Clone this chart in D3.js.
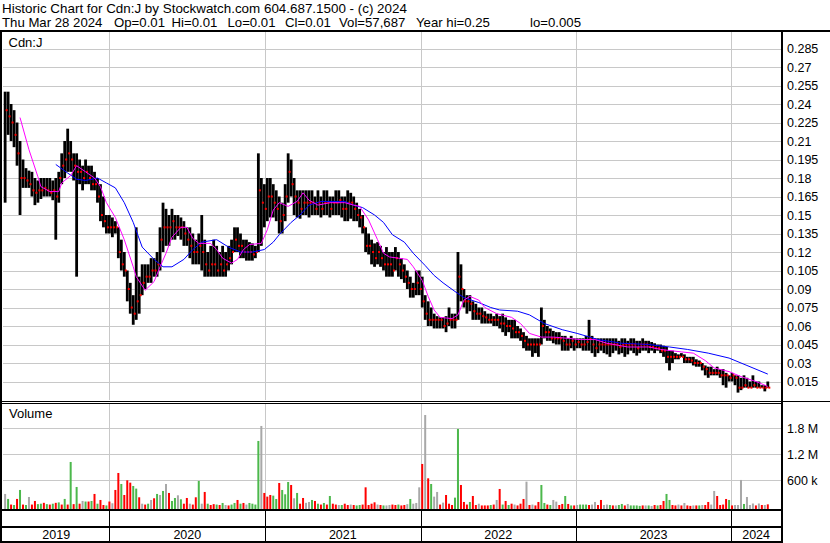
<!DOCTYPE html>
<html><head><meta charset="utf-8">
<script src="https://cdn.jsdelivr.net/npm/d3@7"></script>
<style>
html,body{margin:0;padding:0;background:#fff;}
svg{display:block;font-family:Arial,"Liberation Sans",sans-serif;}
</style></head><body>
<svg id="c" width="830" height="543"></svg>
<script>
// ---------------- DATA (weekly) ----------------
const firstWeekMonday = "2019-04-29";
const weekHigh = [
.25,.25,.24,.235,.225,.21,.195,.188,.186,.185,
.18,.178,.18,.18,.18,.18,.178,.18,.185,.2,
.21,.22,.21,.2,.2,.195,.19,.195,.19,.19,
.185,.18,.175,.165,.15,.15,.148,.145,.14,.13,
.12,.105,.095,.085,.14,.1,.11,.11,.11,.115,
.115,.12,.14,.16,.155,.15,.155,.15,.15,.148,
.145,.14,.14,.135,.13,.135,.15,.13,.12,.125,
.13,.125,.12,.125,.12,.125,.13,.14,.14,.135,
.13,.13,.128,.127,.125,.2,.18,.175,.18,.18,
.175,.17,.165,.16,.175,.2,.195,.18,.17,.17,
.17,.17,.17,.17,.165,.17,.165,.17,.17,.165,
.165,.17,.17,.165,.165,.17,.168,.165,.16,.155,
.15,.14,.135,.13,.127,.128,.125,.12,.124,.12,
.12,.124,.12,.115,.11,.105,.1,.095,.105,.105,
.1,.085,.08,.075,.07,.068,.067,.067,.068,.075,
.07,.07,.12,.11,.09,.085,.085,.08,.078,.075,
.075,.072,.07,.07,.068,.07,.068,.07,.067,.065,
.065,.065,.06,.058,.055,.052,.05,.05,.05,.05,
.075,.065,.06,.058,.056,.055,.055,.052,.052,.05,
.052,.05,.05,.05,.05,.052,.065,.052,.05,.05,
.05,.05,.05,.05,.05,.05,.048,.05,.05,.048,
.05,.05,.048,.048,.05,.048,.048,.047,.046,.045,
.045,.044,.043,.04,.04,.038,.037,.038,.037,.035,
.035,.035,.033,.032,.03,.028,.027,.027,.025,.027,
.025,.025,.022,.02,.022,.02,.02,.018,.02,.018,
.015,.02,.015,.015,.012,.012,.015];
const weekLow = [
.16,.215,.21,.205,.19,.15,.172,.172,.172,.165,
.158,.16,.163,.165,.165,.165,.162,.13,.16,.175,
.18,.185,.185,.178,.1,.175,.17,.175,.175,.17,
.17,.16,.145,.14,.135,.135,.132,.135,.115,.105,
.1,.08,.07,.061,.065,.07,.085,.09,.095,.095,
.1,.1,.105,.12,.125,.125,.13,.13,.133,.13,
.125,.125,.115,.11,.11,.11,.105,.1,.1,.1,
.1,.1,.1,.1,.1,.105,.11,.12,.12,.115,
.115,.113,.113,.113,.115,.12,.125,.14,.145,.148,
.148,.145,.135,.135,.145,.16,.165,.15,.148,.147,
.15,.15,.148,.15,.15,.15,.148,.15,.15,.148,
.15,.15,.15,.148,.145,.145,.147,.145,.145,.14,
.135,.12,.118,.11,.108,.11,.108,.105,.1,.1,
.1,.105,.1,.098,.095,.09,.083,.083,.085,.085,
.075,.065,.06,.06,.058,.058,.058,.058,.055,.06,
.058,.058,.065,.08,.075,.07,.072,.065,.065,.065,
.062,.062,.062,.062,.06,.06,.058,.055,.052,.055,
.05,.05,.05,.048,.042,.04,.04,.035,.038,.035,
.045,.05,.048,.048,.046,.045,.045,.04,.04,.04,
.042,.04,.042,.042,.04,.04,.04,.038,.035,.038,
.04,.038,.037,.035,.038,.04,.037,.038,.035,.037,
.04,.038,.036,.038,.04,.04,.038,.04,.038,.04,
.038,.035,.03,.024,.03,.033,.033,.035,.03,.03,
.03,.028,.027,.027,.024,.02,.018,.02,.02,.02,
.018,.012,.01,.015,.015,.012,.006,.008,.01,.01,
.01,.01,.01,.01,.01,.007,.01];
const weekClose = [
.235,.23,.225,.215,.2,.18,.18,.178,.175,.17,
.168,.17,.17,.172,.17,.168,.17,.165,.18,.19,
.195,.2,.195,.19,.185,.185,.18,.185,.18,.175,
.175,.165,.15,.145,.14,.14,.14,.14,.12,.11,
.105,.09,.075,.07,.08,.085,.095,.1,.1,.105,
.105,.11,.13,.14,.14,.14,.145,.14,.14,.14,
.135,.13,.125,.12,.12,.125,.12,.11,.105,.11,
.11,.105,.11,.105,.11,.115,.12,.13,.125,.125,
.12,.12,.12,.118,.12,.17,.16,.155,.165,.165,
.16,.155,.145,.15,.165,.185,.175,.165,.16,.155,
.16,.16,.16,.16,.155,.16,.155,.16,.16,.155,
.16,.16,.162,.155,.155,.16,.16,.155,.15,.148,
.14,.125,.125,.12,.115,.12,.115,.11,.11,.11,
.105,.115,.11,.105,.1,.095,.09,.09,.095,.09,
.08,.07,.065,.065,.065,.065,.065,.06,.062,.065,
.065,.065,.1,.09,.08,.08,.078,.072,.07,.07,
.068,.067,.065,.065,.065,.065,.062,.062,.06,.06,
.058,.055,.055,.052,.048,.045,.045,.045,.045,.045,
.06,.055,.055,.05,.05,.05,.05,.048,.045,.045,
.048,.045,.047,.045,.045,.047,.05,.045,.042,.045,
.045,.045,.045,.045,.045,.045,.043,.045,.045,.045,
.045,.045,.042,.045,.045,.045,.043,.043,.042,.042,
.04,.04,.035,.035,.035,.035,.035,.035,.033,.033,
.032,.03,.03,.03,.027,.025,.022,.022,.022,.022,
.02,.02,.02,.018,.02,.018,.01,.01,.012,.01,
.01,.012,.01,.01,.01,.01,.01];
// weekly volume, thousands of shares
const weekVolume = [
285,170,40,30,170,377,40,30,215,40,
123,50,60,80,50,40,60,80,90,40,
170,40,1023,50,446,60,123,110,110,123,
285,60,146,30,20,110,70,377,769,515,
261,600,546,469,408,208,60,40,60,146,
185,285,261,354,515,308,123,192,254,162,
60,192,60,40,208,585,60,331,60,30,
50,40,30,77,30,20,40,77,146,60,
77,40,77,60,40,1508,1854,308,223,261,
246,169,538,377,277,561,492,185,308,60,
192,80,100,146,123,60,40,77,40,238,
60,40,30,30,60,30,40,30,20,30,
40,438,30,60,92,40,30,20,20,30,
40,30,40,20,30,50,169,60,77,438,
977,2107,646,515,223,331,40,85,261,60,
30,200,1785,492,100,40,100,238,30,60,
20,20,20,30,40,146,400,40,123,30,
60,40,20,60,169,569,30,40,20,100,
492,77,40,30,146,108,30,54,238,54,
20,20,30,40,40,40,30,40,100,30,
146,30,40,30,20,20,30,54,20,54,
20,20,20,10,20,20,20,8,30,20,
30,123,285,146,30,20,40,20,77,20,
10,20,20,20,30,30,100,40,354,238,
30,40,169,146,20,30,30,608,54,215,
30,65,20,65,30,30,45];
// g = up, r = down, n = unchanged
const weekVolDir = (
"ngrgrgrgnr"+"rggrgrgrgr"+"grgrgrngrg"+"rgrrgrnrrg"+"rrrggrnrgn"+
"rgngnrggng"+"rrnrrgnrgr"+"rgrgnrggrg"+"rnggggnrrr"+"ggrgggrngr"+
"rnngrgrgrg"+"rrngrrnrgg"+"rrrrrnrgnn"+"rrgrrngnnn"+"rnrgnnrnrr"+
"rggrrrgrrn"+"rrrgrnrgrg"+"rnrrrnrnrr"+"ggrgnnrrgr"+"grngggrnnr"+
"rnngrnggrn"+"ggggrngnrg"+"rrggrrnrnr"+"rnrgnrrnnr"+"rrrgrnnngn"+
"nnrnrnr").split("");
// moving averages sampled at week indexes
const maFastWeek = [5,8,11,12,15,18,19,22,24,27,30,32,34,37,40,43,44,47,50,52,54,56,59,61,63,65,69,71,73,76,78,80,82,86,88,90,92,95,98,100,102,105,109,114,117,119,122,125,127,129,132,135,137,140,142,144,146,150,152,154,156,159,161,165,170,173,176,180,184,189,193,198,202,209,216,220,227,231,235,238,243,247,252,256];
const maFastValue = [.229,.203,.181,.173,.169,.169,.176,.182,.19,.185,.18,.173,.16,.148,.13,.108,.1,.089,.096,.108,.119,.132,.14,.14,.131,.127,.127,.122,.115,.111,.114,.122,.126,.127,.138,.154,.16,.157,.161,.168,.162,.158,.16,.16,.158,.157,.146,.13,.119,.116,.115,.114,.108,.097,.084,.073,.067,.066,.069,.081,.084,.081,.075,.07,.067,.062,.054,.051,.051,.05,.049,.049,.046,.043,.043,.041,.039,.038,.032,.026,.023,.019,.015,.011];
const maSlowWeek = [17,21,24,27,31,34,37,40,43,46,50,53,56,60,63,66,71,75,79,83,87,90,92,96,99,102,106,110,114,117,120,124,127,130,134,137,141,144,147,151,154,159,163,166,172,176,181,187,192,199,207,216,223,229,236,243,249,256];
const maSlowValue = [.191,.184,.179,.178,.18,.176,.172,.16,.144,.124,.114,.108,.108,.114,.122,.128,.13,.124,.12,.12,.122,.128,.134,.144,.15,.158,.161,.161,.161,.158,.156,.15,.144,.134,.128,.119,.109,.101,.095,.088,.083,.079,.075,.073,.072,.069,.062,.057,.054,.049,.046,.045,.043,.041,.038,.034,.028,.021];
const priceTicks = [0.015,0.03,0.045,0.06,0.075,0.09,0.105,0.12,0.135,0.15,0.165,0.18,0.195,0.21,0.225,0.24,0.255,0.27,0.285];
const volumeTicks = [600000,1200000,1800000];
const volumeTickLabels = ["600 k","1.2 M","1.8 M"];
const yearLabels = ["2019","2020","2021","2022","2023","2024"];
const titleLine = "Historic Chart for Cdn:J by Stockwatch.com 604.687.1500 - (c) 2024";
const infoParts = ["Thu Mar 28 2024","Op=0.01","Hi=0.01","Lo=0.01","Cl=0.01","Vol=57,687","Year hi=0.25","lo=0.005"];
const symbolLabel = "Cdn:J";
const volumeLabel = "Volume";

// ---------------- LAYOUT ----------------
const svg = d3.select("#c");
const W = 830, H = 543;
const L = 3, R = 781;
const pTop = 31, pBot = 400;
const vTop = 403, vBase = 509;
const parse = d3.timeParse("%Y-%m-%d");
const monday0 = parse(firstWeekMonday);
const weekDate = i => d3.timeDay.offset(monday0, 7 * i + 2);

const x = d3.scaleTime().domain([new Date(2019,3,26), new Date(2024,3,27)]).range([L, R]);
const yP = d3.scaleLinear().domain([0, 0.2992]).range([pBot, pTop]);
const yV = d3.scaleLinear().domain([0, 2384000]).range([506.3, vTop]);

const grid = "#c8c8c8";
const g = svg.append("g");
const yearStarts = yearLabels.slice(1).map(y => new Date(+y, 0, 1));

// grid
g.selectAll(".pg").data(priceTicks).join("line")
  .attr("x1", L).attr("x2", R).attr("y1", d => Math.round(yP(d)) + 0.5).attr("y2", d => Math.round(yP(d)) + 0.5)
  .attr("stroke", grid);
g.selectAll(".vg").data(volumeTicks).join("line")
  .attr("x1", L).attr("x2", R).attr("y1", d => Math.round(yV(d)) + 0.5).attr("y2", d => Math.round(yV(d)) + 0.5)
  .attr("stroke", grid);
yearStarts.forEach(d => {
  const xx = Math.round(x(d)) + 0.5;
  g.append("line").attr("x1", xx).attr("x2", xx).attr("y1", pTop).attr("y2", pBot).attr("stroke", grid);
  g.append("line").attr("x1", xx).attr("x2", xx).attr("y1", vTop).attr("y2", vBase).attr("stroke", grid);
});

// price bars
const idx = d3.range(weekClose.length);
g.selectAll(".bar").data(idx).join("rect")
  .attr("x", i => x(weekDate(i)) - 1.4).attr("width", 2.8)
  .attr("y", i => yP(weekHigh[i])).attr("height", i => Math.max(1, yP(weekLow[i]) - yP(weekHigh[i])))
  .attr("fill", "#000");
g.selectAll(".cl").data(idx).join("rect")
  .attr("x", i => x(weekDate(i)) + 0.5).attr("width", 2)
  .attr("y", i => yP(weekClose[i]) - 1).attr("height", 2)
  .attr("fill", "#ff0000");

// moving averages
const line = d3.line().x(d => x(weekDate(d[0]))).y(d => yP(d[1]));
g.append("path").datum(maSlowWeek.map((w, k) => [w, maSlowValue[k]]))
  .attr("d", line).attr("fill", "none").attr("stroke", "#0000ff").attr("stroke-width", 1);
g.append("path").datum(maFastWeek.map((w, k) => [w, maFastValue[k]]))
  .attr("d", line).attr("fill", "none").attr("stroke", "#ff00ff").attr("stroke-width", 1);

// volume bars
const vCol = { g: "#4cb84c", r: "#ff0000", n: "#a8a8a8" };
g.selectAll(".vb").data(idx).join("rect")
  .attr("x", i => x(weekDate(i)) - 1).attr("width", 2)
  .attr("y", i => Math.min(vBase - 1.5, yV(weekVolume[i] * 1000)))
  .attr("height", i => vBase - Math.min(vBase - 1.5, yV(weekVolume[i] * 1000)))
  .attr("fill", i => vCol[weekVolDir[i]]);

// frame
const k = svg.append("g").attr("stroke", "#000").attr("shape-rendering", "crispEdges");
k.append("line").attr("x1", 0).attr("x2", W).attr("y1", 30.5).attr("y2", 30.5).attr("stroke-width", 2);
k.append("line").attr("x1", 1).attr("x2", 1).attr("y1", 30).attr("y2", H).attr("stroke-width", 2);
k.append("line").attr("x1", 782).attr("x2", 782).attr("y1", 30).attr("y2", H).attr("stroke-width", 2);
k.append("line").attr("x1", 0).attr("x2", W).attr("y1", 401.5).attr("y2", 401.5).attr("stroke-width", 1);
k.append("line").attr("x1", 0).attr("x2", 782).attr("y1", 403.5).attr("y2", 403.5).attr("stroke-width", 1);
k.append("line").attr("x1", 0).attr("x2", 782).attr("y1", 510).attr("y2", 510).attr("stroke-width", 2);
k.append("line").attr("x1", 0).attr("x2", 782).attr("y1", 527).attr("y2", 527).attr("stroke-width", 2);
k.append("line").attr("x1", 0).attr("x2", 782).attr("y1", 542).attr("y2", 542).attr("stroke-width", 2);
yearStarts.forEach(d => {
  const xx = Math.round(x(d)) + 0.5;
  k.append("line").attr("x1", xx).attr("x2", xx).attr("y1", 510).attr("y2", 542).attr("stroke-width", 1);
});

// axes
const pAxis = d3.axisRight(yP).tickValues(priceTicks).tickFormat(d3.format(".3~f")).tickSize(0).tickPadding(5);
const pa = svg.append("g").attr("transform", "translate(782,0)").call(pAxis);
pa.select(".domain").remove();
pa.selectAll("text").attr("font-size", "12.5px").attr("fill", "#000").attr("font-family", "Arial, 'Liberation Sans', sans-serif");

const vAxis = d3.axisRight(yV).tickValues(volumeTicks).tickFormat((d, i) => volumeTickLabels[i]).tickSize(0).tickPadding(5);
const va = svg.append("g").attr("transform", "translate(782,0)").call(vAxis);
va.select(".domain").remove();
va.selectAll("text").attr("font-size", "12.5px").attr("fill", "#000").attr("font-family", "Arial, 'Liberation Sans', sans-serif");

const bounds = [L, ...yearStarts.map(d => x(d)), R];
svg.selectAll(".yl").data(yearLabels).join("text")
  .attr("x", (d, i) => (bounds[i] + bounds[i + 1]) / 2).attr("y", 539)
  .attr("text-anchor", "middle").attr("font-size", "12.5px").text(d => d);

// texts
svg.append("text").attr("x", 2).attr("y", 13).attr("font-size", "13.4px").text(titleLine);
const infoX = [2, 114, 171.5, 227.5, 285, 339, 416, 530];
svg.selectAll(".info").data(infoParts).join("text")
  .attr("x", (d, i) => infoX[i]).attr("y", 27).attr("font-size", "13.2px").text(d => d);
svg.append("text").attr("x", 8.5).attr("y", 46.5).attr("font-size", "13px").text(symbolLabel);
svg.append("text").attr("x", 9).attr("y", 418).attr("font-size", "13px").text(volumeLabel);
</script>
</body></html>
